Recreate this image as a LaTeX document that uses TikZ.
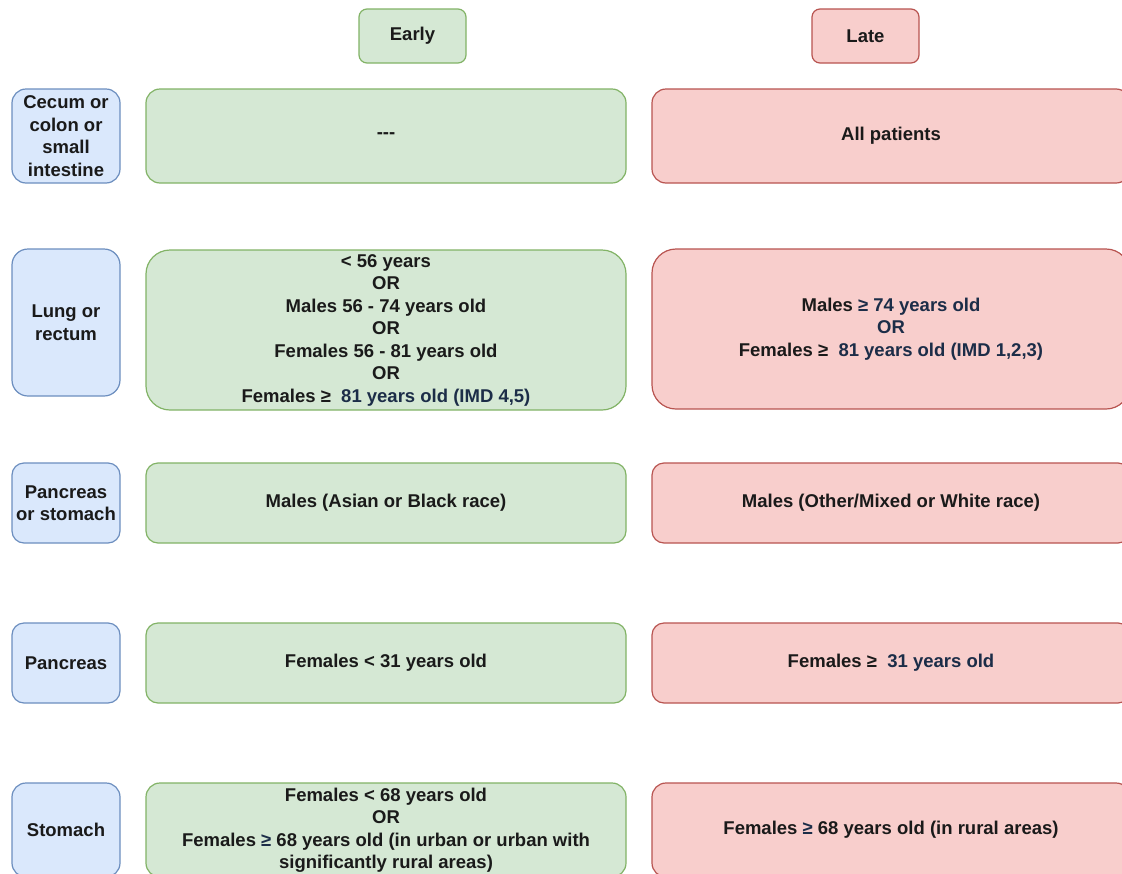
\documentclass[tikz,border=0pt]{standalone}
\usepackage{fontspec}
\setmainfont{Liberation Sans}
\definecolor{gfill}{HTML}{D5E8D4}
\definecolor{gline}{HTML}{82B366}
\definecolor{rfill}{HTML}{F8CECC}
\definecolor{rline}{HTML}{B85450}
\definecolor{bfill}{HTML}{DAE8FC}
\definecolor{bline}{HTML}{6C8EBF}
\definecolor{txt}{HTML}{1A1A1A}
\definecolor{navy}{HTML}{1C2D48}
\newcommand{\nv}[1]{\textcolor{navy}{#1}}
\tikzset{
  base/.style={draw, line width=1.2pt, align=center, inner sep=0pt, text=txt,
    font=\bfseries\fontsize{18.5}{22.5}\selectfont},
  gbox/.style={base, fill=gfill, draw=gline},
  rbox/.style={base, fill=rfill, draw=rline},
  bbox/.style={base, fill=bfill, draw=bline},
}
\begin{document}
\begin{tikzpicture}[x=1pt,y=-1pt]
\useasboundingbox (0,0) rectangle (1122,873);
\clip (0,0) rectangle (1122,873);
\fill[white] (0,0) rectangle (1122,873);
% headers
\node[gbox, minimum width=107pt, minimum height=54pt, rounded corners=8pt] (early) at (412.5,36) {Early};
\node[rbox, minimum width=107pt, minimum height=54pt, rounded corners=8pt] (late) at (865.5,36) {Late};
% row 1
\node[bbox, minimum width=108pt, minimum height=94pt, rounded corners=14pt] (l1) at (66,136) {Cecum or\\colon or\\small\\intestine};
\node[gbox, minimum width=480pt, minimum height=94pt, rounded corners=14pt] (g1) at (386,136) {-{}-{}-};
\node[rbox, minimum width=478pt, minimum height=94pt, rounded corners=14pt] (r1) at (891,136) {All patients};
% row 2
\node[bbox, minimum width=108pt, minimum height=147pt, rounded corners=16pt] (l2) at (66,322.5) {Lung or\\rectum};
\node[gbox, minimum width=480pt, minimum height=160pt, rounded corners=24pt] (g2) at (386,330) {{<} 56 years\\OR\\Males 56 - 74 years old\\OR\\Females 56 - 81 years old\\OR\\Females ≥\ \ \nv{81 years old (IMD 4,5)}};
\node[rbox, minimum width=478pt, minimum height=160pt, rounded corners=24pt] (r2) at (891,329) {Males \nv{≥ 74 years old}\\\nv{OR}\\Females ≥\ \ \nv{81 years old (IMD 1,2,3)}};
% row 3
\node[bbox, minimum width=108pt, minimum height=80pt, rounded corners=12pt] (l3) at (66,503) {Pancreas\\or stomach};
\node[gbox, minimum width=480pt, minimum height=80pt, rounded corners=12pt] (g3) at (386,503) {Males (Asian or Black race)};
\node[rbox, minimum width=478pt, minimum height=80pt, rounded corners=12pt] (r3) at (891,503) {Males (Other/Mixed or White race)};
% row 4
\node[bbox, minimum width=108pt, minimum height=80pt, rounded corners=12pt] (l4) at (66,663) {Pancreas};
\node[gbox, minimum width=480pt, minimum height=80pt, rounded corners=12pt] (g4) at (386,663) {Females {<} 31 years old};
\node[rbox, minimum width=478pt, minimum height=80pt, rounded corners=12pt] (r4) at (891,663) {Females ≥\ \ \nv{31 years old}};
% row 5
\node[bbox, minimum width=108pt, minimum height=94pt, rounded corners=14pt] (l5) at (66,830) {Stomach};
\node[gbox, minimum width=480pt, minimum height=94pt, rounded corners=14pt] (g5) at (386,830) {Females {<} 68 years old\\OR\\Females \nv{≥} 68 years old (in urban or urban with\\significantly rural areas)};
\node[rbox, minimum width=478pt, minimum height=94pt, rounded corners=14pt] (r5) at (891,830) {Females \nv{≥} 68 years old (in rural areas)};
\end{tikzpicture}
\end{document}
